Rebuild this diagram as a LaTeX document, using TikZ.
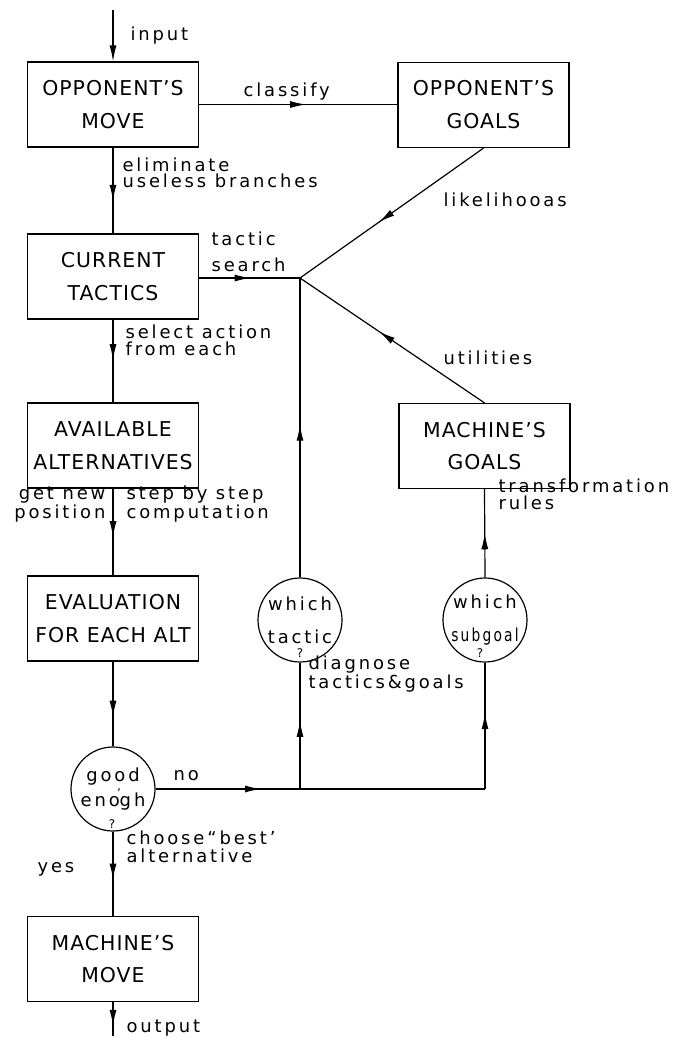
\documentclass[tikz,border=0pt]{standalone}
\usepackage{graphicx}
\usepackage{fontspec}
\setmainfont{DejaVu Sans}
\newfontfamily\boxfont{DejaVu Sans}[LetterSpace=5]
\newfontfamily\lblfont{DejaVu Sans}[LetterSpace=16]
\usetikzlibrary{arrows.meta,decorations.markings}
\begin{document}
\begin{tikzpicture}[x=1bp,y=-1bp, line width=1.2bp,
 box/.style={draw, rectangle, minimum width=171bp, minimum height=85bp, align=center, inner sep=0pt, font=\boxfont\fontsize{20.5}{33}\selectfont},
 qcirc/.style={draw, circle, minimum size=84bp, inner sep=0pt, align=center, font=\lblfont\fontsize{18}{33}\selectfont},
 lbl/.style={inner sep=0pt, align=left, anchor=base west, font=\lblfont\fontsize{18}{16}\selectfont},
 qmark/.style={inner sep=0pt, font=\fontsize{12}{12}\selectfont},
 tip/.style={-{Latex[length=16bp,width=7bp]}},
 midarr/.style={postaction={decorate}, decoration={markings, mark=at position #1 with {\arrow{Latex[length=16bp,width=7bp]}}}},
]
\useasboundingbox (0,0) rectangle (679,1038);

% boxes
\node[box] (om) at (113,104.5) {OPPONENT’S\\MOVE};
\node[box] (og) at (483.5,105) {OPPONENT’S\\GOALS};
\node[box] (ct) at (113,276.5) {CURRENT\\TACTICS};
\node[box] (aa) at (113,445.5) {AVAILABLE\\ALTERNATIVES};
\node[box] (ev) at (113,618.5) {EVALUATION\\FOR EACH ALT};
\node[box] (mm) at (113,959) {MACHINE’S\\MOVE};
\node[box] (mg) at (484.5,446) {MACHINE’S\\GOALS};

% circles
\node[qcirc] (ge) at (113,789) {good\\[-7bp]eno\rlap{\raisebox{0.5em}{\kern-0.15em\fontsize{12}{12}\selectfont ’}}gh};
\node[qcirc] (wt) at (300,620) {which\\tactic};
\node[qcirc] (ws) at (485,620) {which\\\scalebox{0.77}[1]{subgoal}};
\node[qmark] (q1) at (112,824) {?};
\node[qmark] (q2) at (300,653) {?};
\node[qmark] (q3) at (480,653) {?};

% junctions
\coordinate (in) at (113,10);
\coordinate (out) at (113,1036);
\coordinate (j) at (300,278);
\coordinate (nr) at (485,789);
\coordinate (nm) at (300,789);

% connectors
\draw[tip] (in) -- (om.north);
\draw[midarr=0.54] (om.east) -- (om.east -| og.west);
\draw[midarr=0.62] (om.south) -- (ct.north);
\draw[midarr=0.51] (ct.east |- j) -- (j);
\draw[midarr=0.57] (og.south) -- (j);
\draw[midarr=0.57] (mg.north) -- (j);
\draw[midarr=0.51] (wt.north) -- (j);
\draw[midarr=0.49] (ct.south) -- (aa.north);
\draw[midarr=0.56] (aa.south) -- (ev.north);
\draw[midarr=0.65] (ev.south) -- (ge.north);
\draw[midarr=0.32] (ge.east) -- (nr);
\draw[midarr=0.6] (nr) -- (ws.south);
\draw[midarr=0.54] (nm) -- (wt.south);
\draw[midarr=0.5] (ws.north) -- (mg.south);
\draw[midarr=0.57] (ge.south) -- (mm.north);
\draw[midarr=0.7] (mm.south) -- (out);

% labels
\node[lbl] (l1) at (130,40) {input};
\node[lbl] (l2) at (243,96) {classify};
\node[lbl] (l3) at (122,187) {eliminate\\useless branches};
\node[lbl] (l4) at (443,206) {likelihooas};
\node[lbl, font=\lblfont\fontsize{18}{26}\selectfont] (l5) at (211,271) {tactic\\search};
\node[lbl] (l6) at (443,364) {utilities};
\node[lbl, font=\lblfont\fontsize{18}{17}\selectfont] (l7) at (125,355) {select action\\from each};
\node[lbl, align=right, anchor=base east, font=\lblfont\fontsize{18}{15}\selectfont] (l8) at (106,518) {get new\\position};
\node[lbl, font=\lblfont\fontsize{18}{15}\selectfont] (l9) at (126,518) {step by step\\computation};
\node[lbl, font=\lblfont\fontsize{18}{17}\selectfont] (l10) at (498,509) {transformation\\rules};
\node[lbl, font=\lblfont\fontsize{18}{17}\selectfont] (l11) at (308,688) {diagnose\\tactics\&goals};
\node[lbl] (l12) at (173,780) {no};
\node[lbl] (l13) at (37,872) {yes};
\node[lbl, font=\lblfont\fontsize{18}{18}\selectfont] (l14) at (126,862) {choose“best’\\alternative};
\node[lbl] (l15) at (126,1032) {output};
\end{tikzpicture}
\end{document}
